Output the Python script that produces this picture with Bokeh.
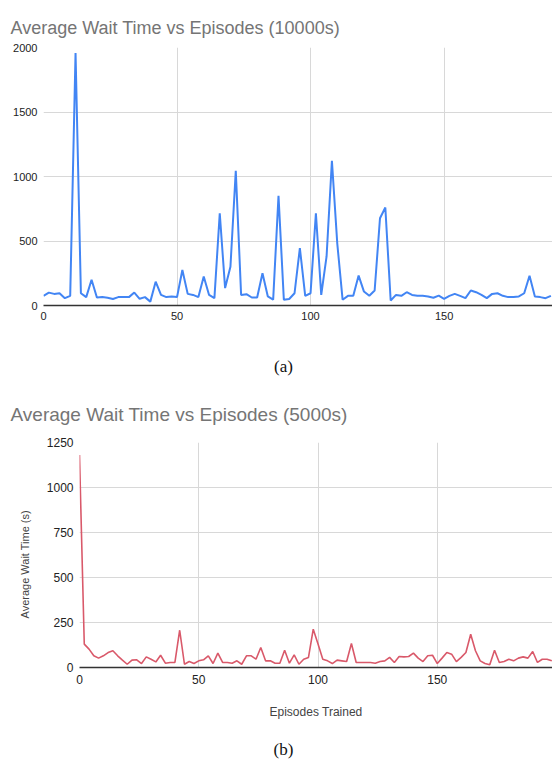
from bokeh.plotting import figure
from bokeh.models import FixedTicker, Range1d, Title
from bokeh.embed import file_html
from bokeh.resources import INLINE

# ---- data ----
episodes_a = list(range(0, 192, 2))
wait_a = [
    75, 100, 90, 95, 57, 75, 1958, 95, 65, 200,
    62, 65, 60, 50, 65, 65, 65, 100, 52, 65,
    30, 185, 82, 65, 70, 65, 275, 90, 82, 65,
    225, 82, 57, 715, 135, 300, 1045, 82, 88, 62,
    62, 250, 70, 45, 850, 45, 50, 95, 445, 75,
    95, 715, 82, 380, 1122, 482, 45, 75, 75, 232,
    108, 75, 116, 676, 760, 39, 82, 75, 103, 82,
    75, 75, 70, 60, 77, 52, 75, 90, 75, 57,
    116, 103, 82, 57, 90, 95, 75, 65, 65, 70,
    95, 230, 70, 65, 57, 75,
]

episodes_b = list(range(0, 200, 2))
wait_b = [
    1180, 130, 102, 65, 52, 65, 83, 93, 65, 41,
    18, 41, 43, 22, 59, 46, 31, 68, 24, 28,
    28, 207, 18, 33, 22, 37, 43, 65, 22, 80,
    28, 28, 24, 37, 18, 65, 65, 46, 111, 37,
    37, 24, 24, 96, 24, 70, 18, 46, 56, 213,
    130, 46, 37, 22, 41, 37, 33, 133, 28, 28,
    28, 28, 24, 33, 37, 56, 28, 61, 59, 61,
    80, 52, 33, 65, 68, 22, 52, 83, 74, 33,
    56, 83, 185, 93, 37, 22, 15, 96, 28, 33,
    46, 37, 52, 59, 52, 89, 28, 46, 46, 37,
]

title_a = "Average Wait Time vs Episodes (10000s)"
title_b = "Average Wait Time vs Episodes (5000s)"
caption_a = "(a)"
caption_b = "(b)"
ylabel_b = "Average Wait Time (s)"
xlabel_b = "Episodes Trained"
xticks = [0, 50, 100, 150]
yticks_a = [0, 500, 1000, 1500, 2000]
yticks_b = [0, 250, 500, 750, 1000, 1250]

SANS = "Liberation Sans"
SERIF = "Liberation Serif"


def style(p, xt, yt, tick_size):
    p.outline_line_color = None
    p.xaxis.ticker = FixedTicker(ticks=xt)
    p.yaxis.ticker = FixedTicker(ticks=yt)
    p.xgrid.ticker = FixedTicker(ticks=xt)
    p.ygrid.ticker = FixedTicker(ticks=yt)
    p.xgrid.grid_line_color = "#d8d8d8"
    p.ygrid.grid_line_color = "#d8d8d8"
    for ax in (p.xaxis, p.yaxis):
        ax.major_tick_line_color = None
        ax.minor_tick_line_color = None
        ax.major_tick_out = 0
        ax.major_tick_in = 0
        ax.minor_tick_out = 0
        ax.minor_tick_in = 0
        ax.major_label_text_font = SANS
        ax.major_label_text_font_size = tick_size
        ax.major_label_text_color = "#222222"
    p.yaxis.axis_line_color = None
    p.xaxis.axis_line_color = "#333333"
    p.xaxis.axis_line_width = 1.5
    p.xaxis.major_label_standoff = 6
    p.yaxis.major_label_standoff = 6
    p.background_fill_color = "white"
    p.border_fill_color = "white"


def mk_title(text, font, size, color, align, offset, standoff):
    return Title(text=text, align=align, offset=offset, standoff=standoff,
                 vertical_align="bottom", text_font=font, text_font_size=size,
                 text_font_style="normal", text_color=color)


# ---- chart (a) ----
p1 = figure(frame_width=509, frame_height=258,
            x_range=Range1d(0, 190.6), y_range=Range1d(0, 2000),
            output_backend="svg", toolbar_location=None,
            min_border_left=43, min_border_right=0,
            min_border_top=47, min_border_bottom=30)
p1.title = mk_title(title_a, SANS, "18px", "#757575", "left", -33, 20)
p1.line(episodes_a, wait_a, line_color="#4285F4", line_width=2)
style(p1, xticks, yticks_a, "11px")

# ---- chart (b) ----
p2 = figure(frame_width=473, frame_height=225,
            x_range=Range1d(0, 198.3), y_range=Range1d(0, 1250),
            output_backend="svg", toolbar_location=None,
            min_border_left=79, min_border_right=0,
            min_border_top=107, min_border_bottom=100,
            title_location=None)
p2.line(episodes_b, wait_b, line_color="#d9596a", line_width=1.6)
style(p2, xticks, yticks_b, "12px")
p2.xaxis.major_label_standoff = 7
# titles above chart (b): its own title, then the caption of chart (a)
p2.add_layout(mk_title(title_b, SANS, "19px", "#757575", "left", -69, 36), "above")
p2.add_layout(mk_title(caption_a, SERIF, "17px", "#111111", "left", 194.6, 16), "above")
# axis titles and caption of chart (b)
p2.add_layout(mk_title(ylabel_b, SANS, "11px", "#444444", "left", 49, 25), "left")
p2.add_layout(mk_title(xlabel_b, SANS, "12px", "#444444", "center", 0, 33), "below")
p2.add_layout(mk_title(caption_b, SERIF, "17px", "#111111", "left", 194, 4), "below")

open("out.html", "w").write(file_html([p1, p2], INLINE))
